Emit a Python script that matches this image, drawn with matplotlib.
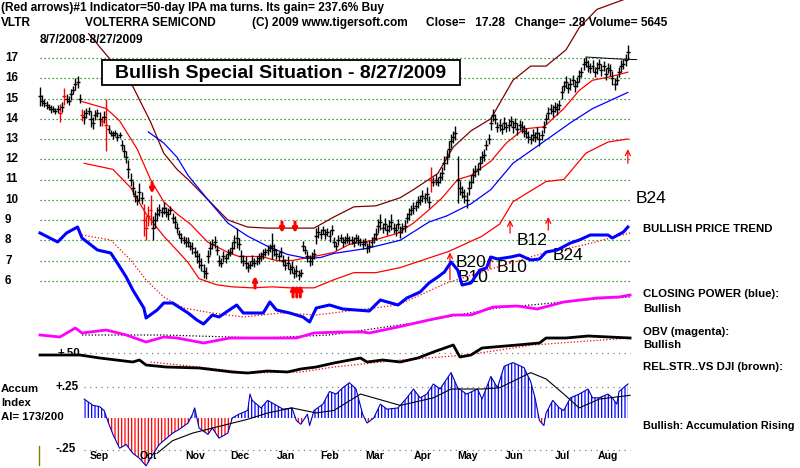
import matplotlib
matplotlib.use("Agg")
import matplotlib.pyplot as plt
import numpy as np
import pandas as pd
from matplotlib import font_manager
from matplotlib.patches import Rectangle

# ---------------- data ----------------
closes = [
    15.1, 14.9, 14.8, 14.7, 14.6, 14.5, 14.5, 14.4, 14.5, 14.3, 14.6, 15.1, 15.0, 14.9, 15.2, 15.4, 15.7, 15.8, 15.0,
    14.2, 14.1, 14.3, 14.4, 14.0, 13.8, 14.2, 14.3, 14.0, 13.9, 14.1, 13.7,
    13.5, 13.3, 13.2, 13.3, 13.1, 13.2, 12.7, 12.4, 12.1, 11.5, 11.0,
    10.6, 10.2, 10.0, 10.4, 10.1, 9.0, 8.6, 9.2, 9.5,
    8.6, 9.0, 9.3, 9.5, 9.4, 9.6, 9.4, 9.3, 9.5, 9.1, 8.9, 8.6,
    8.3, 8.1, 8.0, 7.9, 7.9, 7.7, 7.6, 7.4, 7.2, 7.0, 6.8, 6.5, 6.4,
    7.2, 7.6, 7.8, 7.9, 7.5, 7.0, 6.9, 7.2, 7.1, 7.3, 7.4, 7.6,
    7.9, 8.1, 7.8, 7.2, 7.0, 6.9, 6.7, 6.8, 7.0, 6.9,
    7.0, 7.1, 7.2, 7.3, 7.4, 7.5, 7.6, 7.7, 7.5, 7.3, 7.2, 7.4, 7.0,
    6.8, 6.9, 6.6, 6.7, 6.4, 6.5, 6.3, 6.4, 7.7, 7.5, 7.2, 7.0, 7.1, 7.3,
    8.2, 8.4, 8.3, 8.5, 8.3, 8.4, 8.2, 8.5,
    7.9, 7.7, 8.0, 8.1, 7.9, 8.0, 8.1, 8.0, 8.0, 7.9, 8.1, 8.0, 7.9, 7.8, 7.9,
    7.6, 7.7, 7.9, 8.1, 8.3, 8.7, 8.9, 8.6, 8.8,
    8.5, 8.7, 8.9, 8.6, 8.5, 8.8, 8.4, 8.6, 8.7, 9.1, 9.3, 9.5, 9.6, 9.7,
    9.9, 10.0, 10.2, 10.1, 10.3, 9.9, 11.0, 10.9, 11.0, 10.9, 11.1, 11.3, 11.8,
    12.1, 12.5, 12.9, 13.1, 13.3, 11.0, 10.6, 10.4, 10.2, 10.0,
    10.6, 10.9, 11.2, 11.4, 11.5, 11.8, 12.1, 12.2, 12.7, 13.0, 13.8, 14.2, 14.0,
    13.6, 13.7, 13.5, 13.8, 13.6, 13.7, 13.9, 13.6, 13.8, 13.5, 13.7, 13.6,
    13.4, 13.3, 13.1, 13.0, 13.2, 13.1, 13.3, 13.0, 13.2,
    13.6, 14.0, 14.3, 14.5, 14.4, 14.6, 14.5, 14.7,
    15.3, 15.6, 15.8, 15.5, 15.7, 15.9, 15.6, 15.8,
    16.1, 16.3, 16.7, 16.8, 16.6,
    16.5, 16.6, 16.3, 16.5, 16.7, 16.4, 16.6, 16.2, 16.5, 16.4,
    16.0, 15.7, 15.9, 16.3, 16.6, 16.7, 16.9, 17.28,
]
ranges = [
    0.9, 0.5, 0.4, 0.4, 0.3, 0.4, 0.3, 0.3, 0.4, 0.9, 0.5, 0.8, 0.4, 0.4, 0.5, 0.4, 0.6, 0.6, 0.4,
    0.6, 0.7, 0.5, 0.4, 0.8, 0.6, 0.5, 0.4, 0.7, 0.5, 0.6, 2.6,
    0.4, 0.3, 0.4, 0.3, 0.4, 0.3, 0.5, 0.6, 0.6, 0.9, 0.6,
    0.7, 0.6, 0.5, 0.9, 0.6, 1.6, 1.2, 1.0, 1.5,
    1.2, 0.8, 0.7, 0.6, 0.5, 0.6, 0.5, 0.6, 0.4, 0.5, 0.6, 0.5,
    0.4, 0.5, 0.4, 0.5, 0.5, 0.4, 0.6, 0.5, 0.6, 0.7, 0.6, 0.7, 0.6,
    0.6, 0.7, 0.5, 0.6, 0.5, 0.5, 0.4, 0.5, 0.4, 0.5, 0.4, 0.6,
    0.7, 1.0, 0.6, 0.6, 0.5, 0.6, 0.5, 0.4, 0.5, 0.4,
    0.4, 0.5, 0.4, 0.5, 0.4, 0.5, 0.4, 1.3, 0.6, 0.5, 0.4, 0.5, 0.5,
    0.5, 0.6, 0.5, 0.6, 0.5, 0.6, 0.5, 0.4, 0.5, 0.4, 0.5, 0.5, 0.6, 0.5,
    0.8, 0.6, 0.5, 0.4, 0.5, 0.4, 0.6, 0.5,
    0.5, 0.4, 0.5, 0.4, 0.5, 0.4, 0.5, 0.4, 0.4, 0.5, 0.4, 0.5, 0.4, 0.5, 0.4,
    0.5, 0.6, 0.5, 0.5, 0.6, 0.7, 0.8, 0.5, 0.6,
    0.5, 0.6, 0.8, 0.5, 0.6, 0.5, 0.6, 0.5, 0.6, 0.5, 0.6, 0.5, 0.6, 0.5,
    0.6, 0.5, 0.6, 0.5, 0.7, 0.6, 1.2, 0.4, 0.5, 0.4, 0.5, 0.6, 0.7,
    0.7, 0.8, 0.7, 0.6, 0.7, 2.3, 0.7, 0.6, 0.7, 0.8,
    0.7, 0.6, 0.7, 0.6, 0.6, 0.7, 0.6, 0.6, 0.5, 0.5, 0.7, 0.6, 0.5,
    0.5, 0.6, 0.5, 0.6, 0.5, 0.6, 0.5, 0.6, 0.5, 0.6, 0.5, 0.6,
    0.6, 0.5, 0.6, 0.5, 0.6, 0.5, 0.6, 0.7, 0.5,
    0.6, 0.5, 0.6, 0.5, 0.6, 0.5, 0.6, 0.5,
    0.6, 0.5, 0.6, 0.5, 0.6, 0.5, 0.6, 0.5,
    0.6, 0.5, 0.6, 0.5, 0.6,
    0.5, 0.6, 0.5, 0.6, 0.5, 0.6, 0.5, 0.6, 0.5, 0.6,
    0.7, 0.6, 0.5, 0.5, 0.6, 0.5, 0.6, 0.7,
]
red_bars = [9, 11, 19, 28, 30, 47, 48, 49, 50, 177]

# NYSE holidays inside the period
holidays = ['2008-09-01', '2008-11-27', '2008-12-25', '2009-01-01', '2009-01-19',
            '2009-02-16', '2009-04-10', '2009-05-25', '2009-07-03']

# price bands (day index, price)
brown_i = [22, 42, 50, 56, 62, 67, 76, 85, 94, 103, 112, 124, 133, 142, 152, 163, 169, 180, 187, 195,
           204, 214, 222, 229, 238, 244, 252, 267]
brown = [18.2, 15.6, 13.85, 12.3, 11.5, 11.0, 10.0, 9.0, 8.65, 8.6, 8.6, 8.6, 9.15, 9.65, 9.7, 10.1, 10.5,
         11.3, 12.6, 13.4, 14.0, 15.9, 16.6, 16.6, 17.4, 18.5, 19.4, 20.0]
red_hi_i = [19, 30, 36, 44, 50, 56, 62, 68, 76, 85, 90, 100, 107, 114, 124, 133, 140, 151, 162, 169,
            176, 182, 189, 195, 204, 211, 219, 228, 237, 244, 250, 259, 266]
red_hi = [14.85, 14.5, 13.9, 12.5, 11.0, 9.9, 9.3, 8.8, 7.9, 7.4, 7.2, 7.2, 7.0, 7.0, 7.2, 7.4, 7.8, 8.0,
          8.35, 8.85, 9.5, 10.1, 11.0, 11.2, 11.9, 12.8, 13.5, 13.6, 14.5, 15.4, 15.9, 16.1, 16.3]
red_lo_i = [20, 33, 41, 48, 56, 62, 67, 72, 80, 87, 96, 105, 113, 124, 133, 142, 152, 163, 185, 200,
            208, 214, 229, 237, 247, 257, 266]
red_lo = [11.8, 11.5, 10.6, 9.3, 8.2, 7.5, 6.9, 6.1, 5.8, 5.7, 5.65, 5.7, 5.65, 5.65, 6.05, 6.4, 6.4,
          6.65, 7.45, 8.2, 8.8, 9.9, 10.9, 11.0, 12.3, 12.85, 13.0]
blue_i = [49, 56, 62, 67, 76, 85, 94, 103, 112, 121, 127, 133, 148, 163, 176, 184, 195, 204, 214, 229,
          240, 250, 266]
blue_ma = [13.35, 12.8, 12.1, 11.2, 10.0, 8.85, 8.2, 7.7, 7.3, 7.1, 7.15, 7.35, 7.6, 8.0, 8.9, 9.2, 9.8,
           10.5, 11.8, 12.95, 13.8, 14.5, 15.3]
resist_i = [247, 262, 270]
resist_p = [17.05, 16.95, 16.92]

# signals
buy_i = [185.5, 203.6, 212.7, 230, 266]
buy_lo = [6.05, 6.6, 8.35, 8.5, 11.8]
buy_hi = [7.4, 7.25, 9.0, 9.15, 12.5]
sell_i = [50.7, 109.5, 115.4]
sell_p = [10.6, 8.65, 8.65]
up2_i = [97.3, 114.5, 116.2, 117.8]
up2_p = [5.94, 5.5, 5.5, 5.5]
sig_labels = ['B24', 'B12', 'B20', 'B10', 'B10', 'B24']
sig_i = [269.5, 215.5, 188.0, 189.0, 206.5, 232.0]
sig_p = [10.05, 8.0, 6.9, 6.15, 6.65, 7.25]

# closing power (arbitrary units) and its ma
cp_i = [0, 8, 12, 17, 19, 26, 32, 35, 39, 42, 47, 48, 53, 56, 60, 67, 71, 74, 78, 81, 89, 92, 101, 104,
        107, 113, 119, 122, 125, 131, 137, 149, 154, 162, 166, 172, 176, 180, 183, 186, 189, 191, 195,
        199, 202, 204, 207, 213, 217, 222, 226, 229, 234, 240, 244, 249, 257, 259, 264, 266]
cp = [92, 83, 92, 98, 87, 75, 72, 62, 48, 35, 17, 7, 15, 22, 22, 12, 5, 1, 10, 8, 20, 12, 12, 23, 15, 12,
      8, 3, 17, 20, 16, 14, 25, 20, 27, 33, 42, 48, 53, 63, 55, 40, 42, 55, 57, 68, 66, 68, 70, 65, 66, 73,
      75, 82, 85, 90, 90, 87, 93, 98]
cp_ma_i = [19, 32, 41, 48, 56, 65, 78, 92, 109, 125, 136, 162, 184, 207, 228, 246, 267]
cp_ma = [90, 85, 65, 45, 28, 17, 12, 8, 12, 10, 13, 20, 42, 58, 72, 80, 92]

# OBV (arbitrary units)
obv_i = [0, 9, 16, 19, 30, 39, 48, 56, 62, 74, 86, 101, 116, 124, 136, 146, 149, 162, 176, 187, 195, 205,
         216, 225, 237, 252, 262, 267]
obv = [10, 8, 17, 12, 15, 10, 3, 8, 7, 2, 7, 7, 7, 12, 13, 13, 12, 18, 25, 30, 30, 38, 39, 36, 43, 47, 48, 50]
obv_ma_i = [19, 56, 101, 131, 169, 207, 252, 267]
obv_ma = [10, 10, 7, 10, 22, 37, 46, 48]

# relative strength vs DJI
rs_i = [0, 18, 27, 42, 45, 48, 57, 72, 87, 94, 103, 112, 118, 125, 133, 145, 148, 155, 163, 171, 178,
        187, 190, 195, 200, 216, 226, 229, 238, 248, 267]
rs = [0.48, 0.48, 0.45, 0.41, 0.43, 0.38, 0.36, 0.35, 0.31, 0.30, 0.32, 0.31, 0.34, 0.36, 0.40, 0.45, 0.41,
      0.43, 0.41, 0.45, 0.51, 0.58, 0.46, 0.48, 0.55, 0.58, 0.60, 0.65, 0.65, 0.67, 0.65]
rs_ma_i = [50, 72, 95, 118, 133, 163, 193, 223, 267]
rs_ma = [0.41, 0.36, 0.30, 0.31, 0.36, 0.43, 0.48, 0.58, 0.65]

# accumulation index
ai_i = [20, 24, 27, 29, 31, 33, 36, 39, 42, 45, 48, 51, 54, 60, 63, 67, 69, 70, 71, 72, 76, 78, 81, 85, 87,
        90, 94, 95, 96, 100, 103, 105, 110, 114, 116, 118, 121, 122, 124, 128, 131, 134, 137, 140, 143,
        146, 148, 151, 154, 157, 162, 166, 169, 172, 175, 178, 181, 186, 189, 193, 198, 200, 204, 207,
        210, 214, 219, 222, 224, 226, 228, 229, 232, 235, 237, 240, 244, 248, 250, 253, 257, 259, 261,
        262, 266]
ai = [0.15, 0.10, 0.09, 0.06, -0.04, -0.13, -0.24, -0.21, -0.28, -0.32, -0.38, -0.29, -0.21, -0.12, -0.09,
      -0.04, 0.03, 0.08, 0.0, -0.08, -0.13, -0.08, -0.16, -0.12, 0.0, 0.03, 0.06, 0.19, 0.14, 0.08, 0.14,
      0.12, 0.07, 0.08, -0.02, -0.05, 0.03, -0.06, 0.06, 0.11, 0.21, 0.19, 0.24, 0.28, 0.23, 0.03, -0.04,
      0.0, 0.11, 0.07, 0.08, 0.16, 0.23, 0.16, 0.19, 0.27, 0.23, 0.36, 0.24, 0.19, 0.23, 0.15, 0.33, 0.24,
      0.41, 0.44, 0.40, 0.29, 0.16, -0.02, -0.06, 0.04, 0.14, 0.08, 0.06, 0.16, 0.19, 0.23, 0.16, 0.16,
      0.19, 0.16, 0.11, 0.21, 0.27]
ai_ma_i = [53, 60, 69, 78, 94, 103, 114, 125, 133, 145, 163, 178, 186, 200, 208, 222, 229, 237, 244, 253, 267]
ai_ma = [-0.28, -0.18, -0.12, -0.08, -0.01, 0.04, 0.08, 0.04, 0.06, 0.19, 0.10, 0.16, 0.23, 0.23, 0.24,
         0.36, 0.31, 0.19, 0.08, 0.15, 0.18]

price_ticks = list(range(6, 18))

# ---------------- layout ----------------
W, H = 800, 468
PX_DAY = 2.21          # pixels per trading day
X0 = -40 / PX_DAY
X1 = X0 + W / PX_DAY

fonts = {f.name for f in font_manager.fontManager.ttflist}
NARROW = 'Liberation Sans Narrow' if 'Liberation Sans Narrow' in fonts else 'Liberation Sans'
plt.rcParams['font.family'] = ['Liberation Sans', 'DejaVu Sans']

fig = plt.figure(figsize=(W / 100, H / 100), dpi=100)
fig.patch.set_facecolor('white')


def overlay(top, bottom):
    a = fig.add_axes([0, 0, 1, 1])
    a.set_xlim(X0, X1)
    a.set_ylim(bottom, top)
    a.axis('off')
    a.patch.set_alpha(0)
    return a


def ptext(px, py, s, **kw):
    kw.setdefault('va', 'center')
    kw.setdefault('ha', 'left')
    fig.text(px / W, 1 - py / H, s, **kw)


# price panel: 17 at y=58px, 20.25 px per dollar
p_top = 17 + 58 / 20.25
ax = overlay(p_top, p_top - H / 20.25)

x = np.arange(len(closes))
c = np.array(closes)
r = np.array(ranges)
cols = ['red' if i in red_bars else 'black' for i in x]

for p in price_ticks:
    ax.plot([0, 267], [p, p], color='#008000', lw=0.9, ls=(0, (1, 2.2)), zorder=1)
    ax.text(-15.8, p, str(p), ha='left', va='center', fontsize=8.4, fontweight='bold')

ax.plot(brown_i, brown, color='#800000', lw=0.9, zorder=2)
ax.plot(red_hi_i, red_hi, color='#ff0000', lw=0.9, zorder=2)
ax.plot(red_lo_i, red_lo, color='#ff0000', lw=0.9, zorder=2)
ax.plot(blue_i, blue_ma, color='#0000ff', lw=0.9, zorder=2)
ax.plot(resist_i, resist_p, color='black', lw=0.7, zorder=3)

ax.vlines(x, c - r / 2, c + r / 2, colors=cols, lw=1.0, zorder=4)
ax.hlines(c, x - 0.9, x + 0.9, colors=cols, lw=1.0, zorder=4)

for i, lo, hi in zip(buy_i, buy_lo, buy_hi):
    ax.annotate('', xy=(i, hi), xytext=(i, lo),
                arrowprops=dict(arrowstyle='->', color='red', lw=0.9, mutation_scale=9,
                                shrinkA=0, shrinkB=0), zorder=5)
for i, p in zip(sell_i, sell_p):
    ax.annotate('', xy=(i, p - 0.3), xytext=(i, p + 0.25),
                arrowprops=dict(arrowstyle='-|>', color='red', lw=2.2, mutation_scale=6,
                                shrinkA=0, shrinkB=0), zorder=5)
for i, p in zip(up2_i, up2_p):
    ax.annotate('', xy=(i, p + 0.3), xytext=(i, p - 0.3),
                arrowprops=dict(arrowstyle='-|>', color='red', lw=2.2, mutation_scale=6,
                                shrinkA=0, shrinkB=0), zorder=5)
for s, i, p in zip(sig_labels, sig_i, sig_p):
    ax.text(i, p, s, ha='left', va='center', fontsize=12.5, zorder=6)

# closing power
ax_cp = overlay(325, 325 - H)
ax_cp.plot(cp_ma_i, cp_ma, color='#ff0000', lw=0.9, ls=(0, (1, 1.6)))
ax_cp.plot(cp_i, cp, color='#0000ff', lw=2.2)

# OBV
ax_obv = overlay(345, 345 - H)
ax_obv.plot(obv_ma_i, obv_ma, color='black', lw=0.9, ls=(0, (1, 1.6)))
ax_obv.plot(obv_i, obv, color='#ff00ff', lw=2.0)

# relative strength, .50 level at y=353px
ax_rs = overlay(0.5 + 353 * 0.01, 0.5 - (H - 353) * 0.01)
ax_rs.plot([20, 267], [0.5, 0.5], color='#808080', lw=0.9, ls=(0, (1, 3.5)))
ax_rs.text(7.7, 0.5, '+.50', ha='left', va='center', fontsize=8.2, fontweight='bold')
ax_rs.plot(rs_ma_i, rs_ma, color='#ff0000', lw=0.9, ls=(0, (1, 1.6)))
ax_rs.plot(rs_i, rs, color='black', lw=2.0)

# accumulation index, 0 at y=418px, 31.5 px per .25
k = 0.25 / 31.5
ax_ai = overlay(418 * k, -(H - 418) * k)
for lvl, lab in [(0.25, '+.25'), (-0.25, '-.25')]:
    ax_ai.plot([20, 267], [lvl, lvl], color='#808080', lw=0.9, ls=(0, (1, 3.5)))
    ax_ai.text(6.8, lvl, lab, ha='left', va='center', fontsize=8.4, fontweight='bold')
ai_x = np.array(ai_i)
ai_y = np.array(ai)
plt.rcParams['hatch.linewidth'] = 0.9
with plt.rc_context({'hatch.color': '#0000ff'}):
    ax_ai.fill_between(ai_x, 0, ai_y, where=ai_y >= 0, interpolate=True, facecolor='white',
                       edgecolor='#0000ff', hatch='|||||', lw=0)
with plt.rc_context({'hatch.color': '#ff0000'}):
    ax_ai.fill_between(ai_x, 0, ai_y, where=ai_y <= 0, interpolate=True, facecolor='white',
                       edgecolor='#ff0000', hatch='|||||', lw=0)
ax_ai.plot(ai_x, ai_y, color='#0000c0', lw=0.8)
ax_ai.plot(ai_ma_i, ai_ma, color='black', lw=0.8)
ax_ai.plot([-0.5, -0.5], [-0.22, -0.37], color='#808000', lw=1.0)

# month labels at the middle of each month
dates = pd.bdate_range('2008-08-07', '2009-08-27', freq='C', holidays=holidays)
months = pd.Series(np.arange(len(dates)), index=dates)
for key, grp in months.groupby([dates.year, dates.month]):
    if key == (2008, 8):
        continue
    ax_ai.text(grp.mean(), -0.3, grp.index[0].strftime('%b'), ha='center', va='center',
               fontsize=7.6, fontweight='bold')

# ---------------- header and side texts ----------------
hdr = dict(fontsize=8.6, fontweight='bold', family=[NARROW, 'Liberation Sans'])
ptext(1, 8, '(Red arrows)#1 Indicator=50-day IPA ma turns. Its gain= 237.6% Buy', **hdr)
ptext(1, 23, 'VLTR', **hdr)
ptext(85, 23, 'VOLTERRA SEMICOND', **hdr)
ptext(252, 23, '(C) 2009 www.tigersoft.com', **hdr)
ptext(426, 23, 'Close=   17.28   Change= .28 Volume= 5645', **hdr)
ptext(40, 40, '8/7/2008-8/27/2009', **hdr)

fig.add_artist(Rectangle((102 / W, 1 - 85 / H), 358 / W, 25 / H, transform=fig.transFigure,
                         facecolor='white', edgecolor='black', lw=1.3, zorder=10))
ptext(281, 73, 'Bullish Special Situation - 8/27/2009', ha='center', fontsize=14, fontweight='bold',
      family=[NARROW, 'Liberation Sans'], zorder=11)

side = dict(fontsize=8.2, fontweight='bold')
ptext(643, 229, 'BULLISH PRICE TREND', **side)
ptext(643, 294, 'CLOSING POWER (blue):', **side)
ptext(643, 309, 'Bullish', **side)
ptext(643, 332, 'OBV (magenta):', **side)
ptext(643, 345, 'Bullish', **side)
ptext(643, 367, 'REL.STR..VS DJI (brown):', **side)
ptext(643, 426, 'Bullish: Accumulation Rising', fontsize=7.8, fontweight='bold')
ptext(1, 389, 'Accum', **side)
ptext(1, 403, 'Index', **side)
ptext(1, 417, 'AI= 173/200', **side)

fig.savefig('out.png', dpi=100, facecolor='white')
